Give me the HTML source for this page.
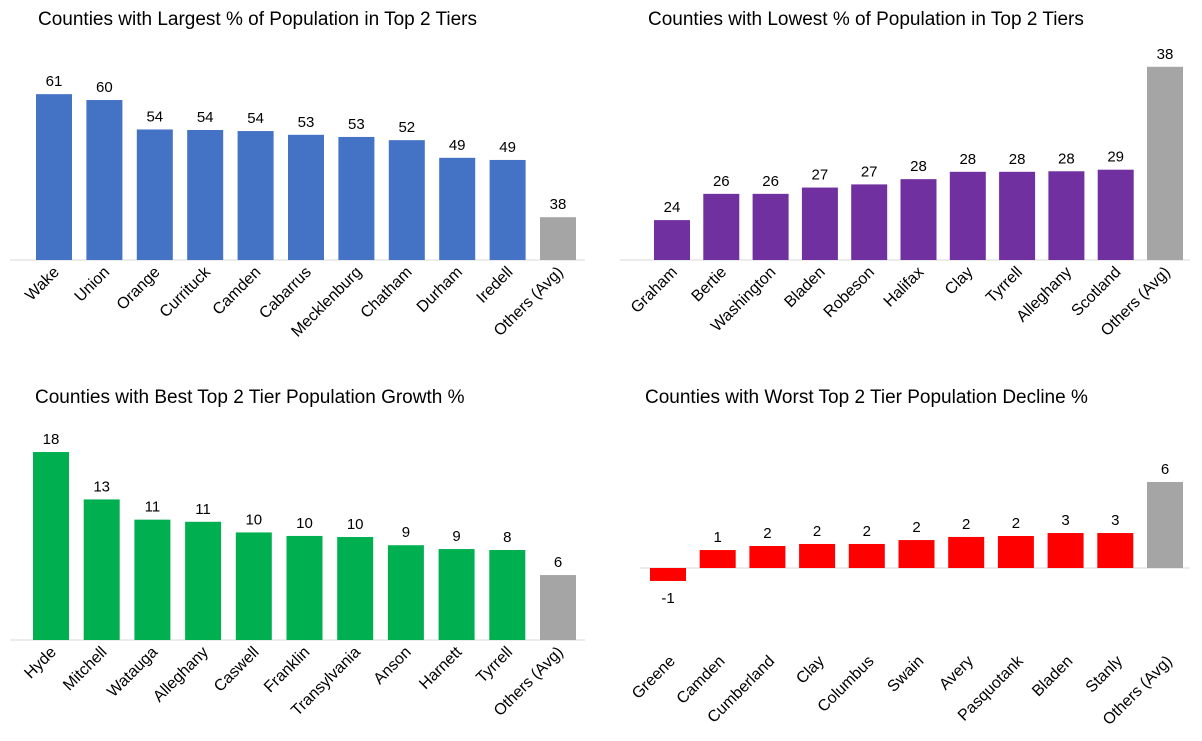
<!DOCTYPE html>
<html><head><meta charset="utf-8"><style>
body{margin:0;background:#fff;font-family:"Liberation Sans",Arial,sans-serif}
svg text{font-family:"Liberation Sans",Arial,sans-serif}
</style></head><body>
<svg id="c" width="1202" height="736"></svg>
<script>
const tlCats=["Wake","Union","Orange","Currituck","Camden","Cabarrus","Mecklenburg","Chatham","Durham","Iredell","Others (Avg)"];
const tlVals=[61.0,59.9,54.4,54.3,54.1,53.4,53.0,52.4,49.1,48.7,38.0];
const trCats=["Graham","Bertie","Washington","Bladen","Robeson","Halifax","Clay","Tyrrell","Alleghany","Scotland","Others (Avg)"];
const trVals=[23.8,26.3,26.3,26.9,27.2,27.7,28.4,28.4,28.45,28.6,38.4];
const blCats=["Hyde","Mitchell","Watauga","Alleghany","Caswell","Franklin","Transylvania","Anson","Harnett","Tyrrell","Others (Avg)"];
const blVals=[17.65,13.2,11.3,11.1,10.1,9.77,9.67,8.9,8.54,8.45,6.1];
const brCats=["Greene","Camden","Cumberland","Clay","Columbus","Swain","Avery","Pasquotank","Bladen","Stanly","Others (Avg)"];
const brVals=[-0.96,1.33,1.63,1.78,1.78,2.07,2.30,2.37,2.59,2.59,6.37];

const NS="http://www.w3.org/2000/svg";
const svg=document.getElementById('c');
function mk(tag,attrs,parent){const e=document.createElementNS(NS,tag);for(const k in attrs)e.setAttribute(k,attrs[k]);(parent||svg).appendChild(e);return e;}

function chart(cfg){
  const g=mk('g',{});
  
  
  const t=mk('text',{x:cfg.titleX,y:cfg.titleY,'font-size':19,fill:'#000'},g);
  t.textContent=cfg.title;
  
  
  const yScale=v=>cfg.zeroY-(v-cfg.v0)*cfg.a;
  const ax=mk('line',{x1:cfg.axX1,x2:cfg.axX2,y1:cfg.zeroY,y2:cfg.zeroY,stroke:'#d9d9d9','stroke-width':1},g);
  
  
  cfg.cats.forEach((c,i)=>{
    const v=cfg.vals[i];
    const x=cfg.x0+i*cfg.step;
    const last=i===cfg.cats.length-1;
    const yv=yScale(v), yb=cfg.zeroY;
    const r=mk('rect',{x:x,y:Math.min(yv,yb),width:cfg.bw,height:Math.abs(yb-yv),fill:last?'#A5A5A5':cfg.color},g);
    
    
    const lv=mk('text',{x:x+cfg.bw/2,y:v>=0?yv-8:yv+22,'font-size':15,'text-anchor':'middle',fill:'#000'},g);
    lv.textContent=Math.round(v);
    
    
    const cx=x+cfg.bw/2+cfg.labDx, cy=cfg.labY;
    const cl=mk('text',{x:cx,y:cy,'font-size':16,'text-anchor':'end',fill:'#000',transform:`rotate(-45 ${cx} ${cy})`},g);
    cl.textContent=c;
    
    
  });
}
chart({name:'chart-largest-pct',title:'Counties with Largest % of Population in Top 2 Tiers',titleX:38,titleY:25,cats:tlCats,vals:tlVals,color:'#4472C4',x0:36,step:50.4,bw:36,zeroY:260,v0:30,a:5.35,axX1:10,axX2:585,labY:273,labDx:6});
chart({name:'chart-lowest-pct',title:'Counties with Lowest % of Population in Top 2 Tiers',titleX:648,titleY:25,cats:trCats,vals:trVals,color:'#7030A0',x0:654,step:49.3,bw:36,zeroY:260,v0:20,a:10.5,axX1:620,axX2:1190,labY:273,labDx:6});
chart({name:'chart-best-growth',title:'Counties with Best Top 2 Tier Population Growth %',titleX:35,titleY:403,cats:blCats,vals:blVals,color:'#00B050',x0:33,step:50.7,bw:36,zeroY:640,v0:0,a:10.65,axX1:10,axX2:585,labY:653,labDx:6});
chart({name:'chart-worst-decline',title:'Counties with Worst Top 2 Tier Population Decline %',titleX:645,titleY:403,cats:brCats,vals:brVals,color:'#FF0000',x0:650,step:49.7,bw:36,zeroY:568,v0:0,a:13.5,axX1:640,axX2:1190,labY:662,labDx:8});
</script>
</body></html>
